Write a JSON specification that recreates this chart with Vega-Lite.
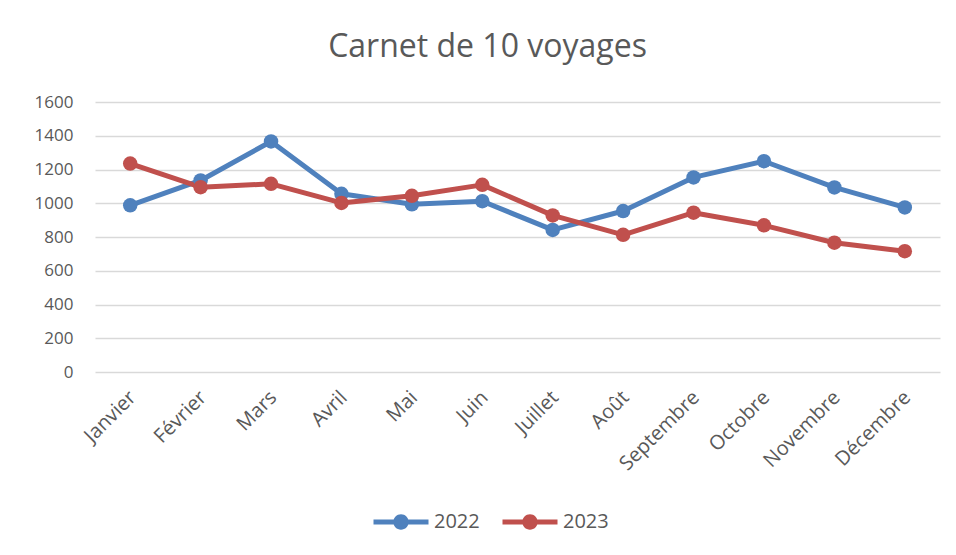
{
  "$schema": "https://vega.github.io/schema/vega-lite/v6.json",
  "autosize": "none",
  "width": 845,
  "height": 270,
  "padding": {"left": 95, "top": 102, "right": 16, "bottom": 183},
  "background": "white",
  "title": {
    "text": "Carnet de 10 voyages",
    "font": "Open Sans",
    "fontSize": 32,
    "fontWeight": "normal",
    "color": "#595959",
    "anchor": "middle",
    "dx": -30,
    "offset": 29
  },
  "config": {
    "view": {"stroke": null},
    "font": "Open Sans"
  },
  "data": {
    "values": [
      {"mois": "Janvier", "annee": "2022", "valeur": 988},
      {"mois": "Février", "annee": "2022", "valeur": 1135},
      {"mois": "Mars", "annee": "2022", "valeur": 1366},
      {"mois": "Avril", "annee": "2022", "valeur": 1056},
      {"mois": "Mai", "annee": "2022", "valeur": 994},
      {"mois": "Juin", "annee": "2022", "valeur": 1012},
      {"mois": "Juillet", "annee": "2022", "valeur": 842},
      {"mois": "Août", "annee": "2022", "valeur": 954},
      {"mois": "Septembre", "annee": "2022", "valeur": 1153},
      {"mois": "Octobre", "annee": "2022", "valeur": 1249},
      {"mois": "Novembre", "annee": "2022", "valeur": 1094},
      {"mois": "Décembre", "annee": "2022", "valeur": 975},
      {"mois": "Janvier", "annee": "2023", "valeur": 1235},
      {"mois": "Février", "annee": "2023", "valeur": 1095},
      {"mois": "Mars", "annee": "2023", "valeur": 1115},
      {"mois": "Avril", "annee": "2023", "valeur": 1002},
      {"mois": "Mai", "annee": "2023", "valeur": 1044},
      {"mois": "Juin", "annee": "2023", "valeur": 1109},
      {"mois": "Juillet", "annee": "2023", "valeur": 928},
      {"mois": "Août", "annee": "2023", "valeur": 813},
      {"mois": "Septembre", "annee": "2023", "valeur": 944},
      {"mois": "Octobre", "annee": "2023", "valeur": 869},
      {"mois": "Novembre", "annee": "2023", "valeur": 766},
      {"mois": "Décembre", "annee": "2023", "valeur": 716}
    ]
  },
  "mark": {"type": "line", "strokeWidth": 5, "strokeCap": "round", "strokeJoin": "round", "point": {"filled": true, "size": 210, "opacity": 1}},
  "encoding": {
    "x": {
      "field": "mois",
      "type": "nominal",
      "sort": null,
      "scale": {"paddingInner": 0, "paddingOuter": 0.5},
      "axis": {
        "title": null,
        "labelAngle": -45,
        "labelFontSize": 20,
        "labelColor": "#595959",
        "labelFont": "Open Sans",
        "labelPadding": 15,
        "labelOffset": -5,
        "ticks": false,
        "domain": false,
        "grid": false
      }
    },
    "y": {
      "field": "valeur",
      "type": "quantitative",
      "scale": {"domain": [0, 1600], "nice": false},
      "axis": {
        "title": null,
        "values": [0, 200, 400, 600, 800, 1000, 1200, 1400, 1600],
        "format": "d",
        "labelFontSize": 17,
        "labelColor": "#595959",
        "labelFont": "Open Sans",
        "labelPadding": 22,
        "ticks": false,
        "domain": false,
        "gridColor": "#d9d9d9",
        "gridWidth": 1.5
      }
    },
    "color": {
      "field": "annee",
      "type": "nominal",
      "scale": {"domain": ["2022", "2023"], "range": ["#4F81BD", "#C0504D"]},
      "legend": {
        "title": null,
        "orient": "none",
        "direction": "horizontal",
        "legendX": 295,
        "legendY": 409,
        "symbolType": "M-2.5,-0.22 H2.5 V0.22 H-2.5 Z M-0.7,0 A0.7,0.7 0 1,1 0.7,0 A0.7,0.7 0 1,1 -0.7,0 Z",
        "symbolSize": 484,
        "symbolFillColor": null,
        "symbolStrokeWidth": 0,
        "symbolOpacity": 1,
        "labelFontSize": 20,
        "labelColor": "#595959",
        "labelFont": "Open Sans",
        "labelOffset": 22,
        "columnPadding": 22
      }
    }
  }
}
